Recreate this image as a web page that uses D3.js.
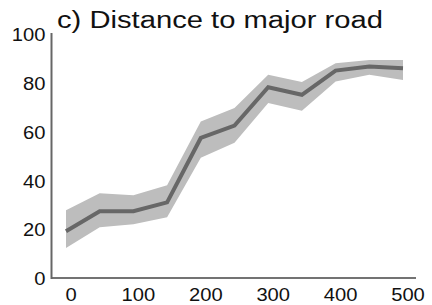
<!DOCTYPE html>
<html>
<head>
<meta charset="utf-8">
<script src="https://cdn.jsdelivr.net/npm/d3@7"></script>
<style>
  body { margin: 0; background: #fff; }
  text { font-family: "Liberation Sans", Arial, sans-serif; fill: #111; }
</style>
</head>
<body>
<svg id="chart" width="432" height="305"></svg>
<script>
// distance (m) and % values
var distances = [0, 50, 100, 150, 200, 250, 300, 350, 400, 450, 500];
var meanVals  = [19.6, 27.8, 27.8, 31.4, 57.8, 62.9, 78.6, 75.5, 85.4, 87.1, 86.4];
var upperVals = [28.2, 35.1, 34.3, 38.4, 64.6, 70.1, 83.7, 80.7, 88.4, 89.8, 89.8];
var lowerVals = [12.7, 21.2, 22.4, 25.3, 49.7, 55.8, 72.1, 69.0, 80.9, 83.7, 81.6];
var xTicks = [0, 100, 200, 300, 400, 500];
var yTicks = [0, 20, 40, 60, 80, 100];
var title = "c) Distance to major road";

var svg = d3.select("#chart");

var x = d3.scaleLinear().domain([0, 500]).range([66, 403]);
var y = d3.scaleLinear().domain([0, 100]).range([279, 35]);

var rows = distances.map(function(d, i){
	return { d: d, m: meanVals[i], lo: lowerVals[i], hi: upperVals[i] };
});

// band
var area = d3.area()
	.x(function(r){ return x(r.d); })
	.y0(function(r){ return y(r.lo); })
	.y1(function(r){ return y(r.hi); });

svg.append("path")
	.datum(rows)
	.attr("d", area)
	.attr("fill", "#bdbdbd");

// mean line
var line = d3.line()
	.x(function(r){ return x(r.d); })
	.y(function(r){ return y(r.m); });

svg.append("path")
	.datum(rows)
	.attr("d", line)
	.attr("fill", "none")
	.attr("stroke", "#676767")
	.attr("stroke-width", 4)
	.attr("stroke-linejoin", "miter");

// axes (no tick marks, plain lines)
var xAxis = d3.axisBottom(x).tickValues(xTicks).tickSize(0).tickPadding(10);
var gx = svg.append("g")
	.attr("transform", "translate(0," + (y(0) - 1) + ")")
	.call(xAxis);
gx.select(".domain").remove();
gx.append("line")
	.attr("x1", 51).attr("x2", 416)
	.attr("stroke", "#444").attr("stroke-width", 1.5);
gx.selectAll(".tick text")
	.attr("dx", 4.5)
	.style("font-size", "18px")
	.style("font-family", "Liberation Sans, Arial, sans-serif")
	.attr("fill", "#111");

var yAxis = d3.axisLeft(y).tickValues(yTicks).tickSize(0).tickPadding(6);
var gy = svg.append("g")
	.attr("transform", "translate(51.5,0)")
	.call(yAxis);
gy.select(".domain").remove();
gy.append("line")
	.attr("y1", y(100) - 2).attr("y2", y(0))
	.attr("stroke", "#666").attr("stroke-width", 2);
gy.selectAll(".tick text")
	.style("font-size", "18px")
	.style("font-family", "Liberation Sans, Arial, sans-serif")
	.attr("fill", "#111");

// stretch the tick labels a bit wider, like the reference
svg.selectAll(".tick text").each(function(){
	var t = d3.select(this);
	var w = this.getComputedTextLength();
	t.attr("textLength", w * 1.12).attr("lengthAdjust", "spacingAndGlyphs");
});

// title
svg.append("text")
	.attr("x", 57)
	.attr("y", 28)
	.attr("textLength", 326)
	.attr("lengthAdjust", "spacingAndGlyphs")
	.style("font-size", "23px")
	.text(title);
</script>
</body>
</html>
